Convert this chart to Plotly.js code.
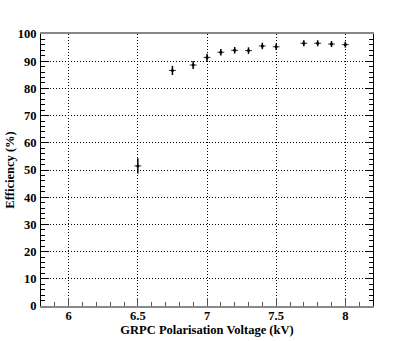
<!DOCTYPE html>
<html>
<head>
<meta charset="utf-8">
<script src="https://cdn.plot.ly/plotly-3.0.1.min.js"></script>
<style>html,body{margin:0;padding:0;background:#fff;}#chart{width:415px;height:341px;}</style>
</head>
<body>
<div id="chart"></div>
<script>
const voltage = [6.5, 6.75, 6.9, 7.0, 7.1, 7.2, 7.3, 7.4, 7.5, 7.7, 7.8, 7.9, 8.0];
const efficiency = [51.5, 86.6, 88.6, 91.4, 93.3, 94.0, 93.9, 95.6, 95.3, 96.6, 96.6, 96.3, 96.1];
const effErr = [2.8, 1.7, 1.5, 1.3, 1.2, 1.2, 1.2, 1.2, 1.2, 1.1, 1.1, 1.1, 1.1];
const voltErr = [0.025, 0.025, 0.025, 0.025, 0.025, 0.025, 0.025, 0.025, 0.025, 0.025, 0.025, 0.025, 0.025];
const xTicks = [6, 6.5, 7, 7.5, 8];
const xTickText = ['6', '6.5', '7', '7.5', '8'];
const yTicks = [0, 10, 20, 30, 40, 50, 60, 70, 80, 90, 100];

const fontFam = 'Liberation Serif';

const trace = {
  x: voltage, y: efficiency, type: 'scatter', mode: 'markers',
  marker: {color: '#000', size: 3},
  error_y: {type: 'data', array: effErr, visible: true, color: '#000', thickness: 1.5, width: 0},
  error_x: {type: 'data', array: voltErr, visible: true, color: '#333', thickness: 1, width: 0},
  hoverinfo: 'none'
};

const layout = {
  width: 415, height: 341,
  margin: {l: 41, r: 42, t: 34, b: 35},
  paper_bgcolor: '#fff', plot_bgcolor: '#fff',
  showlegend: false,
  font: {family: fontFam, color: '#000', size: 12.5, weight: 700},
  xaxis: {
    range: [5.8, 8.2], tickvals: xTicks, ticktext: xTickText,
    ticks: 'inside', ticklen: 8, tickcolor: '#555', tickwidth: 1,
    showline: true, linecolor: '#888', linewidth: 2, mirror: true,
    showgrid: true, gridcolor: '#000', griddash: '1px,2px', gridwidth: 1,
    zeroline: false,
    minor: {dtick: 0.1, ticks: 'inside', ticklen: 4, tickcolor: '#555', showgrid: false},
    tickfont: {family: fontFam, size: 12.5, color: '#000', weight: 700},
    ticklabelstandoff: -3,
    title: {text: 'GRPC Polarisation Voltage (kV)', font: {family: fontFam, size: 12.5, color: '#000', weight: 700}, standoff: 1}
  },
  yaxis: {
    range: [0, 100], tickvals: yTicks,
    ticks: 'inside', ticklen: 8, tickcolor: '#000', tickwidth: 1,
    showline: true, linecolor: '#000', linewidth: 1, mirror: 'ticks',
    showgrid: true, gridcolor: '#000', griddash: '1px,2px', gridwidth: 1,
    zeroline: false,
    minor: {dtick: 2, ticks: 'inside', ticklen: 4, tickcolor: '#000', showgrid: false},
    tickfont: {family: fontFam, size: 12.5, color: '#000', weight: 700},
    ticklabelstandoff: 1,
    title: {text: 'Efficiency (%)', font: {family: fontFam, size: 12.5, color: '#000', weight: 700}, standoff: 0}
  }
};

Plotly.newPlot('chart', [trace], layout, {staticPlot: true, displayModeBar: false});
</script>
</body>
</html>
